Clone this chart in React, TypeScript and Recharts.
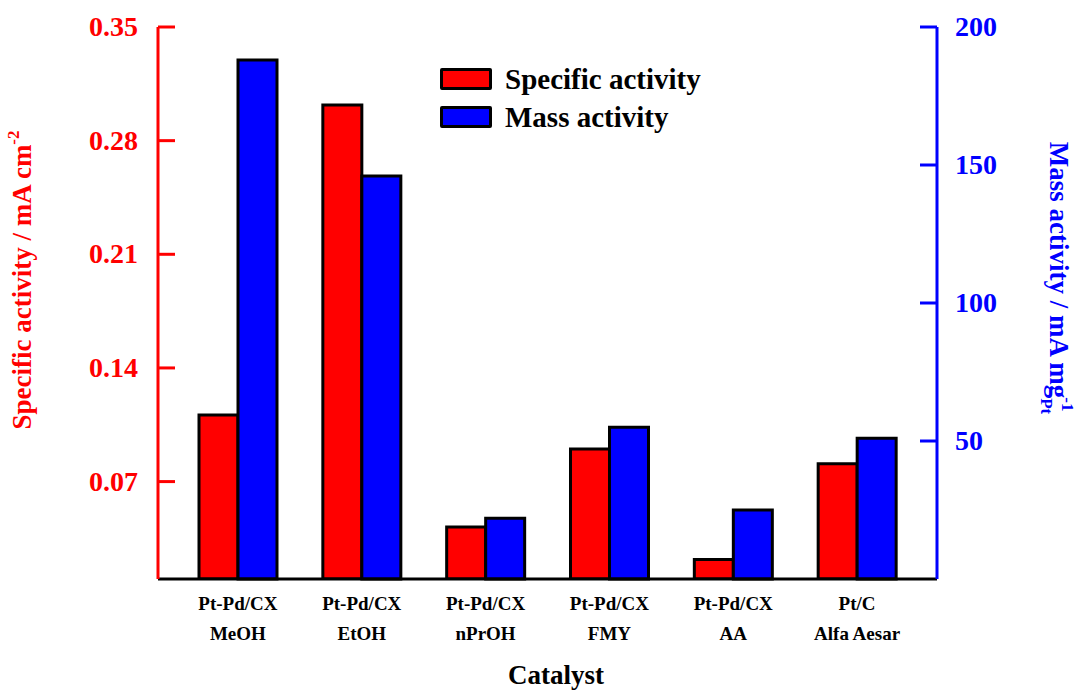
import React from 'react';
import { BarChart, Bar, XAxis, YAxis, Legend } from 'recharts';

// catalyst / precursor used for each sample
const catalysts = ['Pt-Pd/CX', 'Pt-Pd/CX', 'Pt-Pd/CX', 'Pt-Pd/CX', 'Pt-Pd/CX', 'Pt/C'];
const precursors = ['MeOH', 'EtOH', 'nPrOH', 'FMY', 'AA', 'Alfa Aesar'];

// mA cm-2
const specificActivity = [0.111, 0.302, 0.042, 0.090, 0.022, 0.081];
// mA mg-1 Pt
const massActivity = [188, 146, 22, 55, 25, 51];

const leftTicks = [0.07, 0.14, 0.21, 0.28, 0.35];
const rightTicks = [50, 100, 150, 200];

const RED = '#ff0000';
const BLUE = '#0000ff';
const FONT = '"Liberation Serif", "Times New Roman", serif';

const data = precursors.map((p, i) => ({
    precursor: p,
    catalyst: catalysts[i],
    specific: specificActivity[i],
    mass: massActivity[i],
}));

// ticks are drawn pointing into the plot, so the tick line is part of the custom tick
const LeftTick = (props: any) => {
    const { x, y, payload } = props;
    return (
        <g>
            <line x1={x + 20} x2={x + 37} y1={y} y2={y} stroke={RED} strokeWidth={3} />
            <text x={x} y={y} dy={9} textAnchor="end" fill={RED} fontFamily={FONT} fontWeight="bold" fontSize={28}>
                {Number(payload.value).toFixed(2)}
            </text>
        </g>
    );
};

const RightTick = (props: any) => {
    const { x, y, payload } = props;
    return (
        <g>
            <line x1={x - 18} x2={x - 35} y1={y} y2={y} stroke={BLUE} strokeWidth={3} />
            <text x={x} y={y} dy={9} textAnchor="start" fill={BLUE} fontFamily={FONT} fontWeight="bold" fontSize={28}>
                {payload.value}
            </text>
        </g>
    );
};

const CategoryTick = (props: any) => {
    const { x, y, payload, index } = props;
    return (
        <g>
            <text x={x} y={y + 31} textAnchor="middle" fill="#000" fontFamily={FONT} fontWeight="bold" fontSize={19}>
                {catalysts[index]}
            </text>
            <text x={x} y={y + 61} textAnchor="middle" fill="#000" fontFamily={FONT} fontWeight="bold" fontSize={19}>
                {payload.value}
            </text>
        </g>
    );
};

const LeftTitle = () => (
    <text transform="translate(31,280) rotate(-90)" textAnchor="middle" fill={RED} fontFamily={FONT} fontWeight="bold" fontSize={27}>
        Specific activity / mA cm
        <tspan dy={-12} fontSize={17}>-2</tspan>
    </text>
);

const RightTitle = () => (
    <text transform="translate(1050,278) rotate(90)" textAnchor="middle" fill={BLUE} fontFamily={FONT} fontWeight="bold" fontSize={27}>
        Mass activity / mA mg
        <tspan dy={9} fontSize={17}>Pt</tspan>
        <tspan dx={-17} dy={-21} fontSize={17}>-1</tspan>
    </text>
);

const CatalystTitle = () => (
    <text x={556} y={684} textAnchor="middle" fill="#000" fontFamily={FONT} fontWeight="bold" fontSize={27}>
        Catalyst
    </text>
);

const legendItems = [
    { name: 'Specific activity', color: RED },
    { name: 'Mass activity', color: BLUE },
];

const LegendBox = () => (
    <div style={{ fontFamily: FONT, fontWeight: 'bold', fontSize: 29, color: '#000' }}>
        {legendItems.map((item) => (
            <div key={item.name} style={{ display: 'flex', alignItems: 'center', height: 38 }}>
                <div
                    style={{
                        width: 52,
                        height: 22,
                        boxSizing: 'border-box',
                        border: '3px solid #000',
                        borderRadius: 2,
                        background: item.color,
                        marginRight: 13,
                    }}
                />
                <span style={{ whiteSpace: 'nowrap' }}>{item.name}</span>
            </div>
        ))}
    </div>
);

export default function App() {
    return (
        <div style={{ position: 'absolute', left: 0, top: 0, width: 1077, height: 693, background: '#fff' }}>
            <BarChart
                width={1077}
                height={693}
                data={data}
                margin={{ top: 27, right: 0, bottom: 0, left: 0 }}
                barGap={0}
            >
                <XAxis
                    dataKey="precursor"
                    height={114}
                    padding={{ left: 18, right: 18 }}
                    axisLine={{ stroke: '#000', strokeWidth: 3 }}
                    tickLine={false}
                    tickSize={0}
                    tickMargin={0}
                    tick={<CategoryTick />}
                    interval={0}
                    label={<CatalystTitle />}
                />
                <YAxis
                    yAxisId="left"
                    orientation="left"
                    width={158}
                    domain={[0.01, 0.35]}
                    ticks={leftTicks}
                    allowDataOverflow
                    axisLine={{ stroke: RED, strokeWidth: 3 }}
                    tickLine={false}
                    tickSize={0}
                    tickMargin={20}
                    tick={<LeftTick />}
                    label={<LeftTitle />}
                />
                <YAxis
                    yAxisId="right"
                    orientation="right"
                    width={140}
                    domain={[0, 200]}
                    ticks={rightTicks}
                    axisLine={{ stroke: BLUE, strokeWidth: 3 }}
                    tickLine={false}
                    tickSize={0}
                    tickMargin={18}
                    tick={<RightTick />}
                    label={<RightTitle />}
                />
                <Legend
                    layout="vertical"
                    align="center"
                    verticalAlign="middle"
                    content={<LegendBox />}
                    wrapperStyle={{ left: 440, top: 60, width: 300, height: 80 }}
                />
                <Bar yAxisId="left" dataKey="specific" fill={RED} stroke="#000" strokeWidth={3} barSize={39} isAnimationActive={false} />
                <Bar yAxisId="right" dataKey="mass" fill={BLUE} stroke="#000" strokeWidth={3} barSize={39} isAnimationActive={false} />
            </BarChart>
        </div>
    );
}
